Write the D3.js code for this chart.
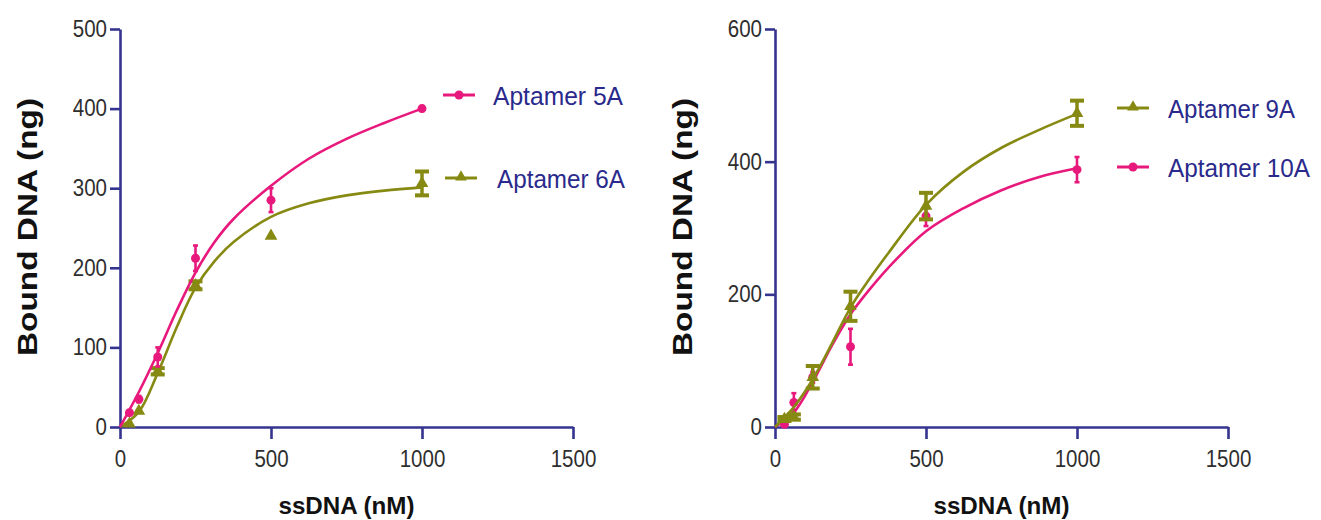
<!DOCTYPE html>
<html>
<head>
<meta charset="utf-8">
<script src="https://cdn.jsdelivr.net/npm/d3@7"></script>
<style>
  html, body { margin: 0; padding: 0; background: #fff; }
  svg { display: block; }
</style>
</head>
<body>
<svg id="chart" width="1321" height="520"></svg>
<script>
// ---------- data ----------
const concentrations = [31.25, 62.5, 125, 250, 500, 1000];   // ssDNA (nM)

const apt5A     = [18, 35, 88, 212, 285, 400];
const apt5AErr  = [3, 4, 12, 16, 15, 3];
const apt6A     = [4, 20, 70, 178, 240, 306];
const apt6AErr  = [0, 0, 4, 5, 0, 15];

const apt9A     = [12, 15, 75, 182, 333, 473];
const apt9AErr  = [3, 4, 17, 22, 20, 19];
const apt10A    = [4, 37, 75, 121, 318, 388];
const apt10AErr = [2, 14, 8, 27, 15, 19];

// fitted curves
const fitX     = [0, 62.5, 125, 187.5, 250, 312.5, 375, 500, 625, 750, 875, 1000];
const fit5A    = [0, 44, 93, 146, 194, 232, 261, 303, 337, 362, 382, 400];
const fit6A    = [0, 19, 68, 125, 175, 208, 232, 264, 281, 291, 297, 301];
const fit9A    = [0, 30, 72, 125, 180, 223, 262, 335, 385, 421, 448, 472];
const fit10A   = [0, 22, 68, 122, 170, 207, 240, 295, 330, 357, 377, 390];

const xTicks      = [0, 500, 1000, 1500];
const yTicksLeft  = [0, 100, 200, 300, 400, 500];
const yTicksRight = [0, 200, 400, 600];

const seriesLeft = [
  { name: "Aptamer 6A", kind: "tri",    vals: apt6A,  err: apt6AErr,  fit: fit6A },
  { name: "Aptamer 5A", kind: "circle", vals: apt5A,  err: apt5AErr,  fit: fit5A }
];
const seriesRight = [
  { name: "Aptamer 10A", kind: "circle", vals: apt10A, err: apt10AErr, fit: fit10A },
  { name: "Aptamer 9A",  kind: "tri",    vals: apt9A,  err: apt9AErr,  fit: fit9A }
];

// ---------- styles ----------
const PINK = "#e8197c";
const OLIVE = "#878a12";
const AXIS = "#35358f";
const NAVY = "#2a2a8c";
const colorOf = k => k === "circle" ? PINK : OLIVE;

const svg = d3.select("#chart");

function condense(sel, perChar) {
  sel.each(function () {
    const t = d3.select(this);
    const n = t.text().length;
    t.attr("textLength", n * perChar).attr("lengthAdjust", "spacingAndGlyphs");
  });
}

function panel(opts) {
  const x = d3.scaleLinear().domain([0, 1500]).range([opts.x0, opts.x0 + 453]);
  const y = d3.scaleLinear().domain([0, opts.ymax]).range([427, 29]);
  const g = svg.append("g");

  // axes
  const xa = g.append("g").attr("transform", "translate(0,427)")
    .call(d3.axisBottom(x).tickValues(xTicks).tickSize(12).tickSizeOuter(0).tickPadding(12).tickFormat(d3.format("d")));
  const ya = g.append("g").attr("transform", `translate(${opts.x0},0)`)
    .call(d3.axisLeft(y).tickValues(opts.yTicks).tickSize(10).tickSizeOuter(0).tickPadding(3).tickFormat(d3.format("d")));
  [xa, ya].forEach(a => {
    a.select(".domain").attr("stroke", AXIS).attr("stroke-width", 2.6);
    a.selectAll(".tick line").attr("stroke", AXIS).attr("stroke-width", 2.6);
    a.selectAll(".tick text")
      .attr("fill", "#2e2e2e")
      .style("font-family", "'Liberation Sans', Arial, sans-serif")
      .style("font-size", "23px");
    condense(a.selectAll(".tick text"), 11.4);
  });

  // axis titles
  g.append("text")
    .attr("x", x(750)).attr("y", 514)
    .attr("text-anchor", "middle")
    .style("font-family", "'Liberation Sans', Arial, sans-serif")
    .style("font-weight", "bold").style("font-size", "24px")
    .attr("fill", "#111")
    .attr("textLength", 136).attr("lengthAdjust", "spacingAndGlyphs")
    .text("ssDNA (nM)");
  g.append("text")
    .attr("transform", `translate(${opts.x0 - 83},227) rotate(-90)`)
    .attr("text-anchor", "middle")
    .style("font-family", "'Liberation Sans', Arial, sans-serif")
    .style("font-weight", "bold").style("font-size", "27px")
    .attr("fill", "#111")
    .attr("textLength", 258).attr("lengthAdjust", "spacingAndGlyphs")
    .text("Bound DNA (ng)");

  const line = d3.line().x((d, i) => x(fitX[i])).y(d => y(d)).curve(d3.curveCatmullRom.alpha(0.5));
  const tri = d3.symbol().type(d3.symbolTriangle).size(70);

  opts.series.forEach(s => {
    const c = colorOf(s.kind);
    const sg = g.append("g");
    sg.append("path").datum(s.fit).attr("d", line)
      .attr("fill", "none").attr("stroke", c).attr("stroke-width", 2.6);

    const pts = s.vals.map((v, i) => ({ x: concentrations[i], v, e: s.err[i] }));
    const capW = s.kind === "tri" ? 7 : 2.5;
    const eb = sg.selectAll(".eb").data(pts.filter(p => p.e > 0)).join("g");
    eb.append("line")
      .attr("x1", p => x(p.x)).attr("x2", p => x(p.x))
      .attr("y1", p => y(p.v - p.e)).attr("y2", p => y(p.v + p.e))
      .attr("stroke", c).attr("stroke-width", s.kind === "tri" ? 3.5 : 2.6);
    [-1, 1].forEach(sgn => {
      eb.append("line")
        .attr("x1", p => x(p.x) - capW).attr("x2", p => x(p.x) + capW)
        .attr("y1", p => y(p.v + sgn * p.e)).attr("y2", p => y(p.v + sgn * p.e))
        .attr("stroke", c).attr("stroke-width", s.kind === "tri" ? 4 : 2.6);
    });

    if (s.kind === "circle") {
      sg.selectAll(".m").data(pts).join("circle")
        .attr("cx", p => x(p.x)).attr("cy", p => y(p.v)).attr("r", 4.5).attr("fill", c);
    } else {
      sg.selectAll(".m").data(pts).join("path")
        .attr("d", tri).attr("transform", p => `translate(${x(p.x)},${y(p.v)})`).attr("fill", c);
    }
  });

  // legend
  opts.legend.forEach(L => {
    const s = opts.series.find(d => d.name === L.name);
    const c = colorOf(s.kind);
    const lg = g.append("g");
    lg.append("line").attr("x1", L.lx).attr("x2", L.lx + 32).attr("y1", L.ly).attr("y2", L.ly)
      .attr("stroke", c).attr("stroke-width", 3);
    if (s.kind === "circle") {
      lg.append("circle").attr("cx", L.lx + 16).attr("cy", L.ly).attr("r", 4.5).attr("fill", c);
    } else {
      lg.append("path").attr("d", d3.symbol().type(d3.symbolTriangle).size(60))
        .attr("transform", `translate(${L.lx + 16},${L.ly - 1})`).attr("fill", c);
    }
    lg.append("text").attr("x", L.tx).attr("y", L.ly + 10)
      .style("font-family", "'Liberation Sans', Arial, sans-serif")
      .style("font-size", "25px").attr("fill", NAVY)
      .attr("textLength", L.tw).attr("lengthAdjust", "spacingAndGlyphs")
      .text(s.name);
  });
}

panel({
  x0: 120, ymax: 500, yTicks: yTicksLeft, series: seriesLeft,
  legend: [
    { name: "Aptamer 5A", lx: 443, ly: 95,  tx: 493, tw: 130 },
    { name: "Aptamer 6A", lx: 445, ly: 178, tx: 497, tw: 128 }
  ]
});
panel({
  x0: 775, ymax: 600, yTicks: yTicksRight, series: seriesRight,
  legend: [
    { name: "Aptamer 9A",  lx: 1117, ly: 108, tx: 1168, tw: 127 },
    { name: "Aptamer 10A", lx: 1117, ly: 167, tx: 1168, tw: 142 }
  ]
});
</script>
</body>
</html>
